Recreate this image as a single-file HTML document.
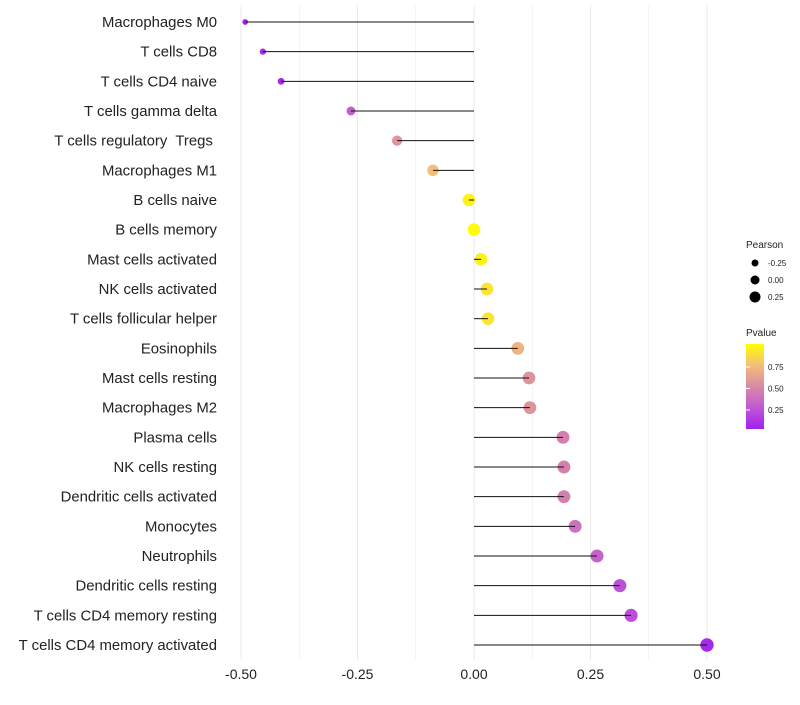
<!DOCTYPE html>
<html><head><meta charset="utf-8"><style>
body{margin:0;background:#fff;font-family:"Liberation Sans",sans-serif}
text{white-space:pre}
</style></head><body>
<svg id="c" width="800" height="700" xmlns="http://www.w3.org/2000/svg">
<defs><linearGradient id="pg" x1="0" y1="1" x2="0" y2="0">
<stop offset="0" stop-color="#a020f0"/><stop offset="0.25" stop-color="#c058d4"/><stop offset="0.5" stop-color="#d98aa6"/><stop offset="0.75" stop-color="#f4bd78"/><stop offset="1" stop-color="#ffff00"/></linearGradient></defs>
</svg>
<script>
const cells=["Macrophages M0","T cells CD8","T cells CD4 naive","T cells gamma delta","T cells regulatory  Tregs ","Macrophages M1","B cells naive","B cells memory","Mast cells activated","NK cells activated","T cells follicular helper","Eosinophils","Mast cells resting","Macrophages M2","Plasma cells","NK cells resting","Dendritic cells activated","Monocytes","Neutrophils","Dendritic cells resting","T cells CD4 memory resting","T cells CD4 memory activated"];
const pearson=[-0.491,-0.453,-0.414,-0.264,-0.165,-0.088,-0.011,0.0,0.015,0.028,0.030,0.094,0.118,0.120,0.191,0.193,0.193,0.217,0.264,0.313,0.337,0.5];
const pvalue=[0.02,0.04,0.05,0.28,0.55,0.75,0.96,0.99,0.95,0.9,0.9,0.7,0.55,0.55,0.45,0.45,0.45,0.38,0.3,0.22,0.2,0.04];
const xTicks=[-0.5,-0.25,0,0.25,0.5];
const xTickLabels=["-0.50","-0.25","0.00","0.25","0.50"];
const sizeLegend=[-0.25,0,0.25];
const svg=document.getElementById('c');const NS="http://www.w3.org/2000/svg";
const x=v=>474+v*466;const y=i=>22+i*29.667;
const rad=v=>v<0?Math.max(1.5,6.3+7*v):6.3+0.8*v;
const lrad=v=>4.5+4*v;
const stops=[[0,[160,32,240]],[0.25,[192,88,212]],[0.5,[217,138,166]],[0.75,[244,189,120]],[1,[255,255,0]]];
function col(p){for(let i=1;i<stops.length;i++){if(p<=stops[i][0]){const a=stops[i-1],b=stops[i],t=(p-a[0])/(b[0]-a[0]);return 'rgb('+a[1].map((c,k)=>Math.round(c+(b[1][k]-c)*t)).join(',')+')';}}return 'rgb(255,255,0)';}
function el(t,a){const e=document.createElementNS(NS,t);for(const k in a)e.setAttribute(k,a[k]);svg.appendChild(e);return e;}
for(let v=-0.5;v<=0.5001;v+=0.125){const g=el('line',{x1:x(v),x2:x(v),y1:5,y2:660,stroke:'#ebebeb','stroke-width':Math.abs(v*4-Math.round(v*4))<0.01?1:0.5});

}
xTicks.forEach((v,i)=>{const t=el('text',{x:x(v),y:679,'text-anchor':'middle','font-size':14,fill:'#222'});t.textContent=xTickLabels[i];

});
cells.forEach((c,i)=>{const t=el('text',{x:217,y:y(i)+5,'text-anchor':'end','font-size':14.9,fill:'#222'});t.textContent=c;


const p=el('circle',{cx:x(pearson[i]),cy:y(i),r:rad(pearson[i]),fill:col(pvalue[i])});


const l=el('line',{x1:x(0),x2:x(pearson[i]),y1:y(i),y2:y(i),stroke:'#111','stroke-width':1});

});
let t=el('text',{x:746,y:248,'font-size':10,fill:'#222'});t.textContent='Pearson';


sizeLegend.forEach((v,i)=>{const cy=263+i*17;const c=el('circle',{cx:755,cy:cy,r:lrad(v),fill:'#000'});


const tt=el('text',{x:768,y:cy+3,'font-size':8,fill:'#222'});tt.textContent=v===0?'0.00':v.toFixed(2);

});
t=el('text',{x:746,y:336,'font-size':10,fill:'#222'});t.textContent='Pvalue';


const bar=el('rect',{x:746,y:344,width:18,height:85,fill:'url(#pg)'});


[[0.75,'0.75'],[0.5,'0.50'],[0.25,'0.25']].forEach(([v,s])=>{const yy=431.5-v*86;
const tk=el('line',{x1:746,x2:750,y1:yy,y2:yy,stroke:'#fff'});


const tt=el('text',{x:768,y:yy+3,'font-size':8,fill:'#222'});tt.textContent=s;

});
</script>
</body></html>
